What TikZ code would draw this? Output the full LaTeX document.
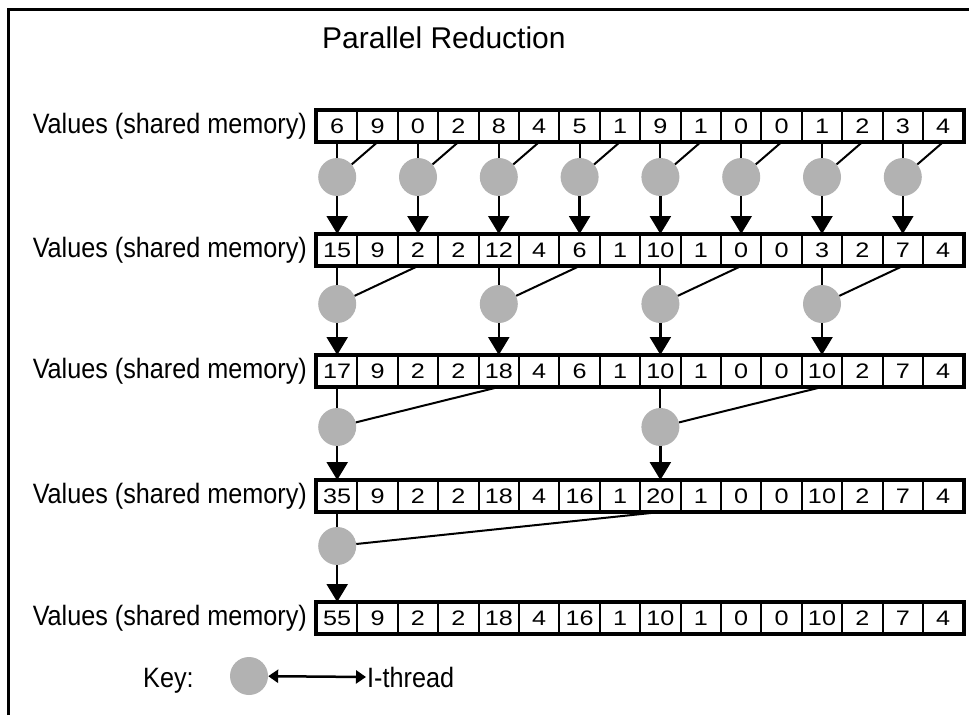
\documentclass[tikz,border=0pt]{standalone}
\usepackage{fontspec}
\setmainfont{Liberation Sans}
\newfontfamily\digitfont[FakeStretch=1.2]{Liberation Sans}
\newfontfamily\labelfont[FakeStretch=0.9]{Liberation Sans}
\usetikzlibrary{arrows.meta}
\definecolor{threadgray}{RGB}{178,178,178}
\newcommand\valrow[3]{%
  \node[rowlabel] (lab#1) at (307,#2+7) {Values (shared memory)};
  \foreach \v [count=\i from 0] in {#3} {
    \node[cellbox] (r#1c\i) at ({317+40.4*(\i+0.5)},#2) {\v};
  }
  \draw[line width=3.5pt] (r#1c0.north west) rectangle (r#1c15.south east);
}
\begin{document}
\begin{tikzpicture}[x=1pt,y=-1pt,
  cellbox/.style={draw, line width=2pt, minimum width=40.4pt, minimum height=30pt,
    inner sep=0pt, font=\digitfont\fontsize{21}{21}\selectfont},
  rowlabel/.style={anchor=base east, inner sep=0pt, font=\labelfont\fontsize{28}{28}\selectfont},
  keytext/.style={anchor=base west, inner sep=0pt, font=\labelfont\fontsize{28}{28}\selectfont},
  thread/.style={circle, fill=threadgray, minimum size=38pt, inner sep=0pt},
  link/.style={line width=2pt},
  down/.style={line width=2.5pt, -{Triangle[width=21pt,length=18pt]}},
  frame/.style={line width=3pt},
]
\useasboundingbox (0,0) rectangle (969,715);
\fill[white] (0,0) rectangle (969,715);
% frame
\draw[frame] (8,715) -- (8,9) -- (969,9);
% title
\node[anchor=base west, inner sep=0pt, font=\fontsize{30}{30}\selectfont] (title) at (322,48) {Parallel Reduction};
% value rows
\valrow{1}{126}{6,9,0,2,8,4,5,1,9,1,0,0,1,2,3,4}
\valrow{2}{250}{15,9,2,2,12,4,6,1,10,1,0,0,3,2,7,4}
\valrow{3}{371}{17,9,2,2,18,4,6,1,10,1,0,0,10,2,7,4}
\valrow{4}{496}{35,9,2,2,18,4,16,1,20,1,0,0,10,2,7,4}
\valrow{5}{618}{55,9,2,2,18,4,16,1,10,1,0,0,10,2,7,4}
% step 1
\foreach \k in {0,...,7} {
  \pgfmathtruncatemacro\a{2*\k}
  \pgfmathtruncatemacro\b{2*\k+1}
  \node[thread] (tA\k) at ({317+40.4*(\a+0.5)},177) {};
  \draw[link] (r1c\a.south) -- (tA\k);
  \draw[link] (r1c\b.south) -- (tA\k);
  \draw[down] (tA\k) -- (r2c\a.north);
}
% step 2
\foreach \k in {0,...,3} {
  \pgfmathtruncatemacro\a{4*\k}
  \pgfmathtruncatemacro\b{4*\k+2}
  \node[thread] (tB\k) at ({317+40.4*(\a+0.5)},304) {};
  \draw[link] (r2c\a.south) -- (tB\k);
  \draw[link] (r2c\b.south) -- (tB\k);
  \draw[down] (tB\k) -- (r3c\a.north);
}
% step 3
\foreach \k in {0,1} {
  \pgfmathtruncatemacro\a{8*\k}
  \pgfmathtruncatemacro\b{8*\k+4}
  \node[thread] (tC\k) at ({317+40.4*(\a+0.5)},427) {};
  \draw[link] (r3c\a.south) -- (tC\k);
  \draw[link] (r3c\b.south) -- (tC\k);
  \draw[down] (tC\k) -- (r4c\a.north);
}
% step 4
\node[thread] (tD0) at ({317+40.4*0.5},546) {};
\draw[link] (r4c0.south) -- (tD0);
\draw[link] (r4c8.south) -- (tD0);
\draw[down] (tD0) -- (r5c0.north);
% key
\node[keytext] (keylab) at (143,687) {Key:};
\node[thread] (keythread) at (249,676) {};
\coordinate (keyend) at (366,677);
\draw[line width=2.5pt, {Triangle[width=13pt,length=10pt]}-{Triangle[width=13pt,length=10pt]}] (keythread) -- (keyend);
\node[keytext] (keyname) at (367,687) {I-thread};
\end{tikzpicture}
\end{document}
